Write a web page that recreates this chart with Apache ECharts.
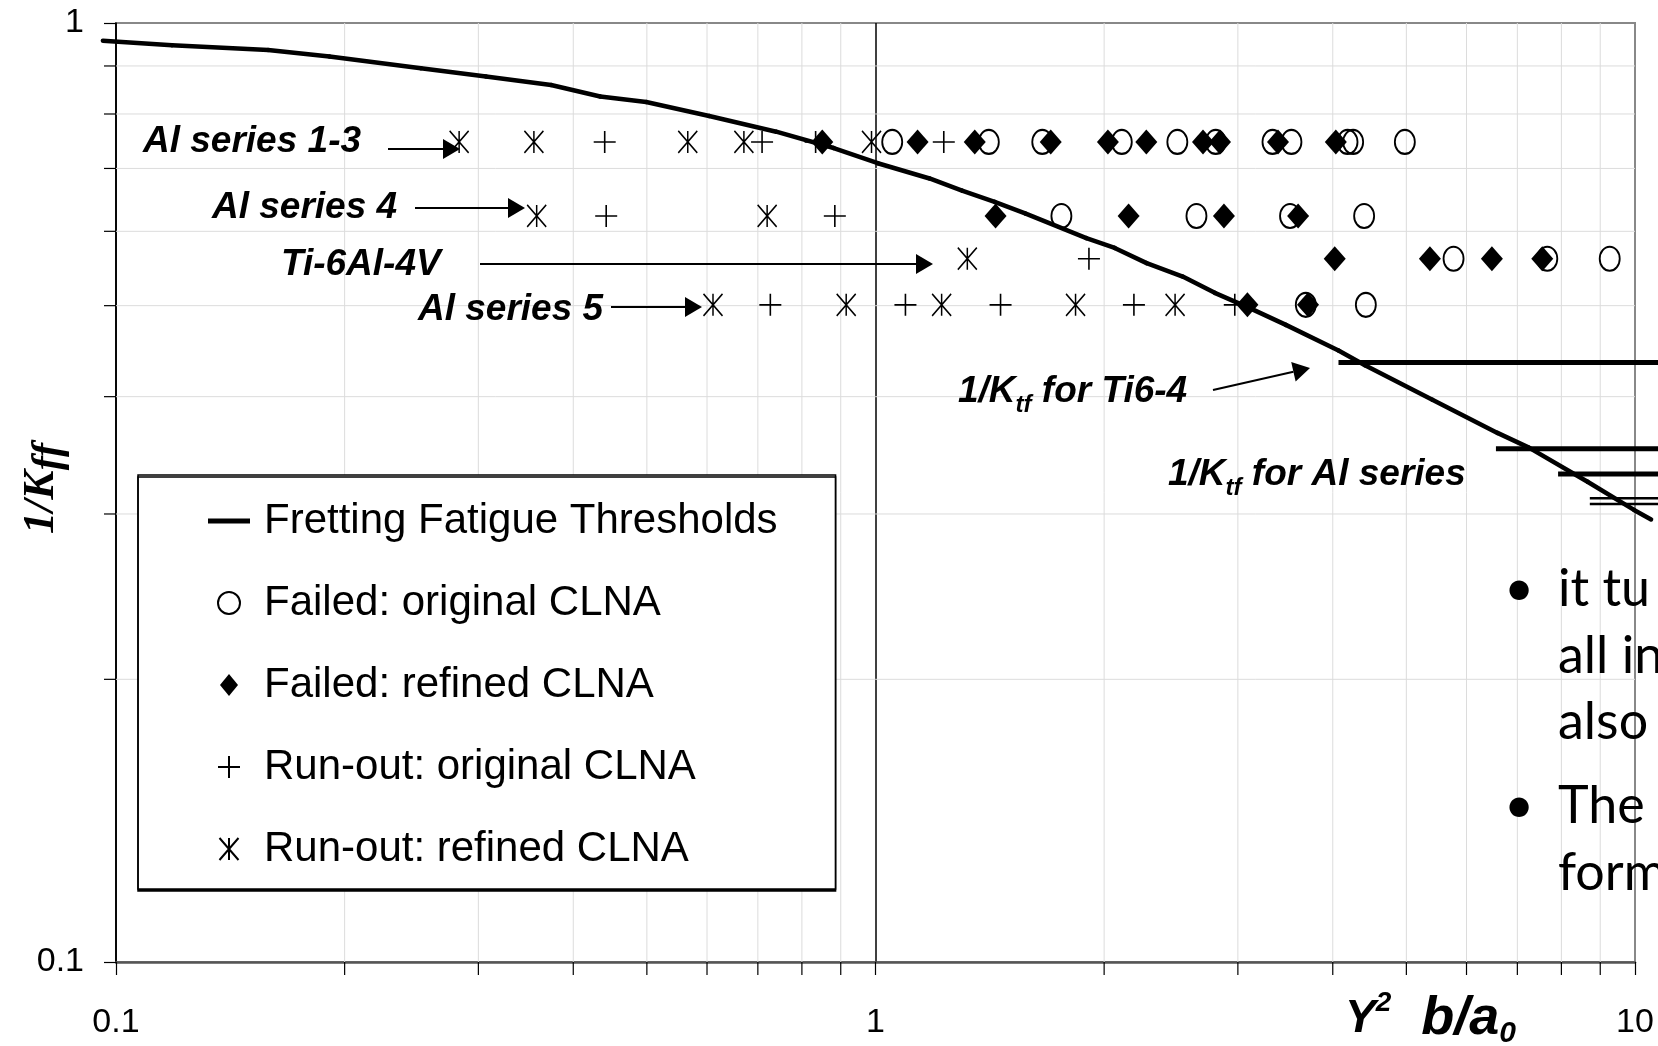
<!DOCTYPE html>
<html>
<head>
<meta charset="utf-8">
<title>Fretting fatigue thresholds</title>
<script src="https://cdn.jsdelivr.net/npm/echarts@6.0.0/dist/echarts.min.js"></script>
<style>
html,body{margin:0;padding:0;background:#fff;}
#main{width:1658px;height:1046px;}
</style>
</head>
<body>
<div id="main"></div>
<script>
// fretting fatigue threshold curve
var curveX = [0.0961, 0.1185, 0.1586, 0.191, 0.252, 0.307, 0.374, 0.434, 0.499, 0.604, 0.740, 0.881, 1.007, 1.178, 1.30, 1.435, 1.574, 1.895, 2.065, 2.275, 2.538, 2.797, 3.11, 3.47, 4.07, 4.41, 5.41, 6.59, 7.25, 8.66, 9.97, 10.5];
var curveY = [0.9575, 0.947, 0.936, 0.921, 0.895, 0.877, 0.859, 0.835, 0.824, 0.796, 0.766, 0.736, 0.709, 0.683, 0.663, 0.645, 0.627, 0.590, 0.576, 0.555, 0.537, 0.516, 0.497, 0.477, 0.448, 0.432, 0.397, 0.366, 0.353, 0.3247, 0.303, 0.296];

// 1/Ktf levels (Ti6-4 first, then Al series)
var ktfY = [0.435, 0.352, 0.331, 0.3118, 0.3075];
var ktfStart = [4.07, 6.56, 7.92, 8.72, 8.72];
var ktfEnd = 11;

// rows: Al series 1-3, Al series 4, Ti-6Al-4V, Al series 5
var rowY = [0.747, 0.623, 0.561, 0.501];
var failedOriginal = [
  [1.052, 1.41, 1.658, 2.11, 2.497, 2.805, 3.332, 3.529, 4.183, 4.255, 4.977],
  [1.757, 2.646, 3.514, 4.399],
  [5.769, 7.665, 9.262],
  [3.686, 4.422]
];
var failedRefined = [
  [0.851, 1.136, 1.351, 1.701, 2.023, 2.273, 2.699, 2.842, 3.388, 4.037],
  [1.439, 2.154, 2.876, 3.601],
  [4.024, 5.370, 6.480, 7.549],
  [3.088, 3.711]
];
var runoutOriginal = [
  [0.44, 0.709, 0.834, 1.23],
  [0.442, 0.884],
  [1.910],
  [0.727, 1.095, 1.461, 2.189, 2.972]
];
var runoutRefined = [
  [0.283, 0.355, 0.566, 0.671, 0.988],
  [0.358, 0.720],
  [1.321],
  [0.611, 0.915, 1.222, 1.834, 2.480]
];

var minorX = [0.2, 0.3, 0.4, 0.5, 0.6, 0.7, 0.8, 0.9, 2, 3, 4, 5, 6, 7, 8, 9];
var minorY = [0.2, 0.3, 0.4, 0.5, 0.6, 0.7, 0.8, 0.9];

var legendNames = ['Fretting Fatigue Thresholds', 'Failed: original CLNA', 'Failed: refined CLNA', 'Run-out: original CLNA', 'Run-out: refined CLNA'];

function rowsToPoints(rows) {
  var out = [];
  for (var i = 0; i < rows.length; i++) {
    for (var j = 0; j < rows[i].length; j++) {
      out.push([rows[i][j], rowY[i]]);
    }
  }
  return out;
}

function arrow(x1, y1, x2, y2) {
  var dx = x2 - x1, dy = y2 - y1;
  var len = Math.sqrt(dx * dx + dy * dy);
  var ux = dx / len, uy = dy / len;
  var hl = 17, hw = 10;
  var bx = x2 - ux * hl, by = y2 - uy * hl;
  return [
    {type: 'line', z: 100, shape: {x1: x1, y1: y1, x2: bx, y2: by}, style: {stroke: '#000', lineWidth: 2}},
    {type: 'polygon', z: 100, shape: {points: [[x2, y2], [bx - uy * hw, by + ux * hw], [bx + uy * hw, by - ux * hw]]}, style: {fill: '#000'}}
  ];
}

var noteRich = {
  b: {fontFamily: 'Liberation Sans', fontStyle: 'italic', fontWeight: 'bold', fontSize: 37, lineHeight: 50},
  k: {fontFamily: 'Liberation Sans', fontStyle: 'italic', fontWeight: 'bold', fontSize: 37, lineHeight: 50},
  s: {fontFamily: 'Liberation Sans', fontStyle: 'italic', fontWeight: 'bold', fontSize: 24, lineHeight: 24, verticalAlign: 'bottom'}
};
function note(txt, x, y) {
  return {type: 'text', z: 100, x: x, y: y, style: {text: txt, rich: noteRich, fill: '#000', verticalAlign: 'middle'}};
}
function slideText(txt, x, y) {
  return {type: 'text', z: 100, x: x, y: y, style: {text: txt, font: '52px Lato', fill: '#000', verticalAlign: 'middle'}};
}

var graphics = [];
graphics = graphics.concat(arrow(388, 149, 460, 149));
graphics = graphics.concat(arrow(415, 208, 525, 208));
graphics = graphics.concat(arrow(480, 264, 933, 264));
graphics = graphics.concat(arrow(611, 307, 702, 307));
graphics = graphics.concat(arrow(1213, 390, 1310, 368));
graphics.push(note('{b|Al series 1-3}', 143, 142));
graphics.push(note('{b|Al series 4}', 212, 208));
graphics.push(note('{b|Ti-6Al-4V}', 281, 265));
graphics.push(note('{b|Al series 5}', 418, 310));
graphics.push(note('{k|1/K}{s|tf}{k| for Ti6-4}', 958, 392));
graphics.push(note('{k|1/K}{s|tf}{k| for Al series}', 1168, 475));
graphics.push(slideText('\u2022', 1504, 589));
graphics.push(slideText('it tu', 1558, 589));
graphics.push(slideText('all in', 1558, 656));
graphics.push(slideText('also', 1558, 722));
graphics.push(slideText('\u2022', 1504, 806));
graphics.push(slideText('The', 1558, 806));
graphics.push(slideText('form', 1558, 873));

function minorXItem(params, api) {
  var v = api.value(0);
  var b = api.coord([v, 0.1]);
  var t = api.coord([v, 1]);
  return {type: 'group', children: [
    {type: 'line', shape: {x1: b[0], y1: t[1], x2: b[0], y2: b[1]}, style: {stroke: '#dcdcdc', lineWidth: 1}},
    {type: 'line', shape: {x1: b[0], y1: b[1], x2: b[0], y2: b[1] + 13}, style: {stroke: '#000', lineWidth: 1.2}}
  ]};
}
function minorYItem(params, api) {
  var v = api.value(1);
  var l = api.coord([0.1, v]);
  var r = api.coord([10, v]);
  return {type: 'group', children: [
    {type: 'line', shape: {x1: l[0], y1: l[1], x2: r[0], y2: l[1]}, style: {stroke: '#dcdcdc', lineWidth: 1}},
    {type: 'line', shape: {x1: l[0] - 12, y1: l[1], x2: l[0], y2: l[1]}, style: {stroke: '#000', lineWidth: 1.2}}
  ]};
}
function segmentItem(params, api) {
  var a = api.coord([api.value(0), api.value(1)]);
  var b = api.coord([api.value(2), api.value(3)]);
  return {type: 'line', shape: {x1: a[0], y1: a[1], x2: b[0], y2: b[1]},
    style: {stroke: '#000', lineWidth: 4.5, lineCap: 'round'}};
}
function ktfItem(params, api) {
  var y = api.value(1);
  var a = api.coord([api.value(0), y]);
  var b = api.coord([ktfEnd, y]);
  return {type: 'line', shape: {x1: a[0], y1: a[1], x2: b[0], y2: b[1]},
    style: {stroke: '#000', lineWidth: api.value(2) < 3 ? 5 : 2.5}};
}

var curveSegments = [];
for (var i = 0; i < curveX.length - 1; i++) {
  curveSegments.push([curveX[i], curveY[i], curveX[i + 1], curveY[i + 1]]);
}

var series = [];
series.push({
  type: 'custom', name: 'minorX', coordinateSystem: 'cartesian2d', silent: true, z: 1,
  renderItem: minorXItem, data: minorX.map(function (v) { return [v, 0.1]; })
});
series.push({
  type: 'custom', name: 'minorY', coordinateSystem: 'cartesian2d', silent: true, z: 1,
  renderItem: minorYItem, data: minorY.map(function (v) { return [0.1, v]; })
});
series.push({
  type: 'custom', name: legendNames[0], coordinateSystem: 'cartesian2d', silent: true, z: 3, clip: false,
  itemStyle: {color: '#000'},
  renderItem: segmentItem, data: curveSegments
});
series.push({
  type: 'custom', name: 'ktf', coordinateSystem: 'cartesian2d', silent: true, z: 3, clip: false,
  renderItem: ktfItem, data: ktfY.map(function (y, i) { return [ktfStart[i], y, i]; })
});
series.push({
  type: 'scatter', name: legendNames[1], symbol: 'circle', symbolSize: [20, 24], z: 4,
  itemStyle: {color: 'rgba(0,0,0,0)', borderColor: '#000', borderWidth: 2, opacity: 1},
  data: rowsToPoints(failedOriginal)
});
series.push({
  type: 'scatter', name: legendNames[2], symbol: 'path://M11,0 L22,12.5 L11,25 L0,12.5 Z', symbolSize: [22, 25], z: 5,
  itemStyle: {color: '#000', opacity: 1},
  data: rowsToPoints(failedRefined)
});
series.push({
  type: 'scatter', name: legendNames[3], symbol: 'path://M0,11 L22,11 M11,0 L11,22', symbolSize: [22, 22], z: 5,
  itemStyle: {color: 'rgba(0,0,0,0)', borderColor: '#000', borderWidth: 1.6, opacity: 1},
  data: rowsToPoints(runoutOriginal)
});
series.push({
  type: 'scatter', name: legendNames[4], symbol: 'path://M0,0 L19,22 M19,0 L0,22 M9.5,0 L9.5,22', symbolSize: [19, 22], z: 5,
  itemStyle: {color: 'rgba(0,0,0,0)', borderColor: '#000', borderWidth: 1.6, opacity: 1},
  data: rowsToPoints(runoutRefined)
});

var myChart = echarts.init(document.getElementById('main'));
var option = {
  animation: false,
  backgroundColor: '#fff',
  grid: {
    left: 116, right: 23, top: 23, bottom: 84,
    show: true, borderColor: '#888', borderWidth: 2,
    containLabel: false, outerBoundsMode: 'none'
  },
  legend: {
    orient: 'vertical', left: 138, top: 475,
    data: [
      {name: legendNames[0], icon: 'path://M0,0 L42,0 L42,5 L0,5 Z', itemStyle: {color: '#000'}},
      {name: legendNames[1]},
      {name: legendNames[2], icon: 'path://M9,0 L18,11 L9,22 L0,11 Z'},
      {name: legendNames[3]},
      {name: legendNames[4]}
    ],
    padding: [21, 58, 15, 70],
    itemWidth: 42, itemHeight: 22, itemGap: 32,
    borderColor: '#000', borderWidth: 1.5, backgroundColor: '#fff',
    shadowColor: '#000', shadowOffsetY: 2, shadowBlur: 0,
    selectedMode: false,
    textStyle: {fontFamily: 'Liberation Sans', fontSize: 42, lineHeight: 50, color: '#000', padding: [0, 0, 0, 9]}
  },
  xAxis: {
    type: 'log', logBase: 10, min: 0.1, max: 10,
    name: '{y|Y}{sup|2}{b|  b/a}{sub|0}',
    nameLocation: 'end', nameGap: -290, nameMoveOverlap: false,
    nameTextStyle: {
      align: 'left', verticalAlign: 'top', padding: [27, 0, 0, 0],
      rich: {
        y: {fontFamily: 'Liberation Sans', fontStyle: 'italic', fontWeight: 'bold', fontSize: 46, lineHeight: 60, color: '#000'},
        b: {fontFamily: 'Liberation Sans', fontStyle: 'italic', fontWeight: 'bold', fontSize: 54, lineHeight: 60, color: '#000'},
        sup: {fontFamily: 'Liberation Sans', fontStyle: 'italic', fontWeight: 'bold', fontSize: 28, lineHeight: 28, verticalAlign: 'top', color: '#000'},
        sub: {fontFamily: 'Liberation Sans', fontStyle: 'italic', fontWeight: 'bold', fontSize: 30, lineHeight: 24, verticalAlign: 'bottom', color: '#000'}
      }
    },
    axisLine: {show: true, onZero: false, lineStyle: {color: '#555', width: 2.5}},
    axisTick: {show: true, length: 13, lineStyle: {color: '#000', width: 1.2}},
    axisLabel: {fontFamily: 'Liberation Sans', fontSize: 34, color: '#000', margin: 44},
    splitLine: {show: true, lineStyle: {color: ['#000', '#000', '#888'], width: 1.5}},
    minorTick: {show: false},
    minorSplitLine: {show: false}
  },
  yAxis: {
    type: 'log', logBase: 10, min: 0.1, max: 1,
    name: '{k|1/K}{f|ff}',
    nameLocation: 'middle', nameRotate: 90, nameGap: 74, nameMoveOverlap: false,
    nameTextStyle: {
      align: 'center', verticalAlign: 'middle', padding: [0, 0, 0, 8],
      rich: {
        k: {fontFamily: 'Liberation Serif', fontStyle: 'italic', fontWeight: 'bold', fontSize: 44, lineHeight: 56, color: '#000'},
        f: {fontFamily: 'Liberation Serif', fontStyle: 'italic', fontWeight: 'bold', fontSize: 42, lineHeight: 40, verticalAlign: 'bottom', color: '#000'}
      }
    },
    axisLine: {show: true, onZero: false, lineStyle: {color: '#000', width: 1.5}},
    axisTick: {show: true, length: 12, lineStyle: {color: '#000', width: 1.2}},
    axisLabel: {fontFamily: 'Liberation Sans', fontSize: 34, color: '#000', margin: 32},
    splitLine: {show: false},
    minorTick: {show: false},
    minorSplitLine: {show: false}
  },
  graphic: graphics,
  series: series
};
myChart.setOption(option);
</script>
</body>
</html>
